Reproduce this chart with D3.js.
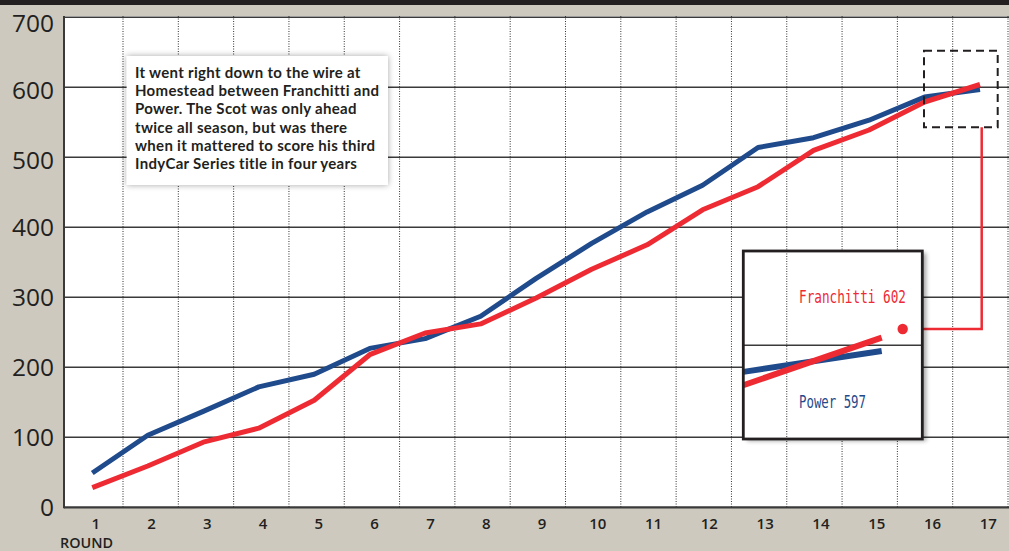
<!DOCTYPE html>
<html>
<head>
<meta charset="utf-8">
<script src="https://cdn.jsdelivr.net/npm/d3@7"></script>
<style>
  html, body { margin: 0; padding: 0; background: #cdc9be; }
  svg { display: block; }
</style>
</head>
<body>
<svg id="chart" width="1009" height="551"></svg>
<script>
// ---- data ----
const rounds = [1,2,3,4,5,6,7,8,9,10,11,12,13,14,15,16,17];
const power =      [49,103,137,172,190,227,241,273,327,377,422,460,514,528,553,586,597];
const franchitti = [28,59,93,113,153,218,249,262,299,340,375,425,458,510,539,579,604];
const yTicks = [0,100,200,300,400,500,600,700];
const xLabel = "ROUND";
const note = [
  "It went right down to the wire at",
  "Homestead between Franchitti and",
  "Power. The Scot was only ahead",
  "twice all season, but was there",
  "when it mattered to score his third",
  "IndyCar Series title in four years"
];
const labelFranchitti = "Franchitti 602";
const labelPower = "Power 597";

// ---- styles ----
const BLUE = "#1f4a8c", RED = "#ee2a33", INK = "#231f20", BG = "#cdc9be";

const svg = d3.select("#chart");
const W = 1009, H = 551;

const defs = svg.append("defs");
const f1 = defs.append("filter").attr("id","soft").attr("x","-10%").attr("y","-10%").attr("width","120%").attr("height","120%");
f1.append("feDropShadow").attr("dx",0).attr("dy",0).attr("stdDeviation",3).attr("flood-color","#000").attr("flood-opacity",0.35);
const f2 = defs.append("filter").attr("id","hard").attr("x","-10%").attr("y","-10%").attr("width","120%").attr("height","120%");
f2.append("feDropShadow").attr("dx",4).attr("dy",2).attr("stdDeviation",2).attr("flood-color","#000").attr("flood-opacity",0.35);

// background + top bar
svg.append("rect").attr("width",W).attr("height",H).attr("fill",BG);
svg.append("rect").attr("width",W).attr("height",5).attr("fill",INK);

// scales
const pLeft = 64, pTop = 16, pBottom = 507.3;
const y = d3.scaleLinear().domain([0,700]).range([pBottom, 17.3]);
const x = d3.scaleLinear().domain([1,17]).range([92.3, 980]);
const xLab = d3.scaleLinear().domain([1,17]).range([95.7, 988.3]);
const xGrid = d3.scaleLinear().domain([1.5,17.5]).range([123, 1008]);

// plot area
svg.append("rect").attr("x",pLeft).attr("y",pTop).attr("width",W-pLeft).attr("height",pBottom-pTop).attr("fill","#fff");

// vertical dotted gridlines
const gridRounds = rounds.map(r => r + 0.5);
svg.append("g").selectAll("line").data(gridRounds).join("line")
  .attr("x1", d => xGrid(d)).attr("x2", d => xGrid(d))
  .attr("y1", pTop).attr("y2", pBottom)
  .attr("stroke", "#333").attr("stroke-width", 1).attr("stroke-dasharray","1,1.5");

// horizontal gridlines
svg.append("g").selectAll("line").data(yTicks.filter(d => d > 0)).join("line")
  .attr("x1", pLeft).attr("x2", W)
  .attr("y1", d => y(d)).attr("y2", d => y(d))
  .attr("stroke", "#3a3a3a").attr("stroke-width", 1.6);

// axes lines
svg.append("line").attr("x1",pLeft).attr("x2",pLeft).attr("y1",pTop).attr("y2",pBottom+1)
  .attr("stroke","#3a3a3a").attr("stroke-width",2);
svg.append("line").attr("x1",pLeft).attr("x2",W).attr("y1",pBottom).attr("y2",pBottom)
  .attr("stroke","#3a3a3a").attr("stroke-width",2.2);

// y labels
svg.append("g").selectAll("text").data(yTicks).join("text")
  .attr("x", 54)
  .attr("y", d => d === 700 ? 23.5 : (d >= 500 ? y(d) + 3 : y(d)))
  .attr("dy", "0.36em")
  .attr("text-anchor","end")
  .attr("font-family","'Open Sans', sans-serif").attr("font-weight",500)
  .attr("font-size",24.5).attr("fill",INK)
  .text(d => d);

// x labels
svg.append("g").selectAll("text").data(rounds).join("text")
  .attr("x", d => xLab(d)).attr("y", 529)
  .attr("text-anchor","middle")
  .attr("font-family","'Open Sans', sans-serif").attr("font-weight",600)
  .attr("font-size",15).attr("fill",INK)
  .text(d => d);
svg.append("text").attr("x",60).attr("y",547.5)
  .attr("font-family","'Open Sans', sans-serif").attr("font-weight",600)
  .attr("font-size",14.5).attr("fill",INK).attr("textLength",53).attr("lengthAdjust","spacingAndGlyphs")
  .text(xLabel);

// lines
const line = d3.line().x((d,i) => x(rounds[i])).y(d => y(d));
svg.append("path").datum(power).attr("d", line)
  .attr("fill","none").attr("stroke",BLUE).attr("stroke-width",5).attr("stroke-linejoin","round");
svg.append("path").datum(franchitti).attr("d", line)
  .attr("fill","none").attr("stroke",RED).attr("stroke-width",5).attr("stroke-linejoin","round");

// annotation box
const nb = svg.append("g");
nb.append("rect").attr("x",126.7).attr("y",56).attr("width",261.3).attr("height",129)
  .attr("fill","#fff").attr("filter","url(#soft)");
nb.append("g")
  .selectAll("text").data(note).join("text")
  .attr("x",135).attr("y",(d,i) => 78 + i*18.2)
  .attr("font-family","Lato, 'Open Sans', sans-serif").attr("font-weight",700)
  .attr("font-size",15).attr("letter-spacing",0.3).attr("fill",INK)
  .text(d => d);

// dashed zoom box
svg.append("rect").attr("x",924).attr("y",50.7).attr("width",73.7).attr("height",76.6)
  .attr("fill","none").attr("stroke",INK).attr("stroke-width",2).attr("stroke-dasharray","8,5");

// connector
svg.append("path").attr("d","M981.7,127.3 V329 H902.7")
  .attr("fill","none").attr("stroke",RED).attr("stroke-width",2.5);

// inset
const ix0 = 743.3, iy0 = 251, iw = 179, ih = 188;
svg.append("rect").attr("x",ix0).attr("y",iy0).attr("width",iw).attr("height",ih)
  .attr("fill","#fff").attr("filter","url(#hard)");
const clip = defs.append("clipPath").attr("id","insetClip");
clip.append("rect").attr("x",ix0).attr("y",iy0).attr("width",iw).attr("height",ih);
const ins = svg.append("g").attr("clip-path","url(#insetClip)");
const ixs = d3.scaleLinear().domain([16,17]).range([743.3, 881.7]);
const iys = d3.scaleLinear().domain([600, 575]).range([345.3, 392.8]);
// main gridline showing through
ins.append("line").attr("x1",xGrid(13.5)).attr("x2",xGrid(13.5)).attr("y1",iy0).attr("y2",iy0+ih)
  .attr("stroke","#333").attr("stroke-width",1).attr("stroke-dasharray","1,1.5");
ins.append("line").attr("x1",ix0).attr("x2",ix0+iw).attr("y1",iys(600)).attr("y2",iys(600))
  .attr("stroke","#3a3a3a").attr("stroke-width",1.6);
const iline = d3.line().x(d => ixs(d.r)).y(d => iys(d.v));
const lastTwo = arr => rounds.slice(-2).map((r,i) => ({r, v: arr[arr.length-2+i]}));
ins.append("path").datum(lastTwo(power)).attr("d", iline)
  .attr("fill","none").attr("stroke",BLUE).attr("stroke-width",6);
ins.append("path").datum(lastTwo(franchitti)).attr("d", iline)
  .attr("fill","none").attr("stroke",RED).attr("stroke-width",6);
svg.append("rect").attr("x",ix0).attr("y",iy0).attr("width",iw).attr("height",ih)
  .attr("fill","none").attr("stroke","#231f20").attr("stroke-width",2.8);
svg.append("circle").attr("cx",902.7).attr("cy",329).attr("r",5.2).attr("fill",RED);

svg.append("text").attr("x",799).attr("y",302.7)
  .attr("font-family","'DejaVu Sans Mono','Liberation Mono',monospace")
  .attr("font-size",17.5).attr("fill",RED)
  .attr("textLength",107).attr("lengthAdjust","spacingAndGlyphs")
  .text(labelFranchitti);
svg.append("text").attr("x",799).attr("y",407.7)
  .attr("font-family","'DejaVu Sans Mono','Liberation Mono',monospace")
  .attr("font-size",17.5).attr("fill",BLUE)
  .attr("textLength",67).attr("lengthAdjust","spacingAndGlyphs")
  .text(labelPower);
</script>
</body>
</html>
